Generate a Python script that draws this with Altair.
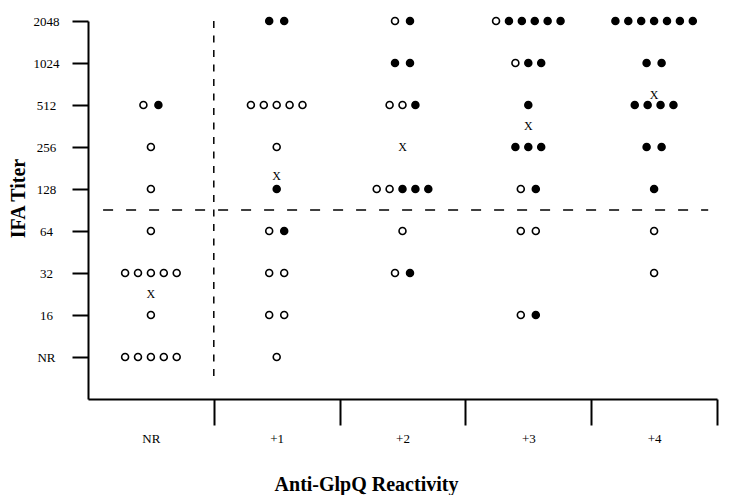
import json
import altair as alt
import pandas as pd

# ---------------- data ----------------
reactivity = ["NR", "+1", "+2", "+3", "+4"]
titer_labels = ["NR", "16", "32", "64", "128", "256", "512", "1024", "2048"]

# groups of dots: column, titer row, symbols left to right (o = open, f = filled)
group_reactivity = [
    "NR", "NR", "NR", "NR", "NR", "NR", "NR",
    "+1", "+1", "+1", "+1", "+1", "+1", "+1", "+1",
    "+2", "+2", "+2", "+2", "+2", "+2",
    "+3", "+3", "+3", "+3", "+3", "+3", "+3",
    "+4", "+4", "+4", "+4", "+4", "+4", "+4",
]
group_titer = [
    "512", "256", "128", "64", "32", "16", "NR",
    "2048", "512", "256", "128", "64", "32", "16", "NR",
    "2048", "1024", "512", "128", "64", "32",
    "2048", "1024", "512", "256", "128", "64", "16",
    "2048", "1024", "512", "256", "128", "64", "32",
]
group_symbols = [
    "of", "o", "o", "o", "ooooo", "o", "ooooo",
    "ff", "ooooo", "o", "f", "of", "oo", "oo", "o",
    "of", "ff", "oof", "oofff", "o", "of",
    "offfff", "off", "f", "fff", "of", "oo", "of",
    "fffffff", "ff", "ffff", "ff", "f", "o", "o",
]

# "X" markers (position on the titer scale, 1 = NR ... 9 = 2048)
x_mark_reactivity = ["NR", "+1", "+2", "+3", "+4"]
x_mark_level = [2.5, 5.3, 6.0, 6.5, 7.25]

# dashed cut-off lines (in scale units)
vline_x = [1.0]
vline_y = [9.0, 0.4]
hline_y = [4.5]
hline_x = [0.12, 4.93]

# ---------------- layout ----------------
W, H = 629, 378
PX_PER_UNIT = W / len(reactivity)
FONT = "Liberation Serif"

rows = []
for r, t, s in zip(group_reactivity, group_titer, group_symbols):
    n = len(s)
    gap = (15.0 if n == 2 else 12.9) / PX_PER_UNIT
    cx = reactivity.index(r) + 0.5
    for i, ch in enumerate(s):
        rows.append({
            "xpos": cx + (i - (n - 1) / 2) * gap,
            "ypos": titer_labels.index(t) + 1,
            "kind": "filled" if ch == "f" else "open",
        })
dots = pd.DataFrame(rows)

xmarks = pd.DataFrame({
    "xpos": [reactivity.index(r) + 0.5 for r in x_mark_reactivity],
    "ypos": x_mark_level,
})

vline = pd.DataFrame({"x": vline_x, "y": [vline_y[0]], "y2": [vline_y[1]]})
hline = pd.DataFrame({"y": hline_y, "x": [hline_x[0]], "x2": [hline_x[1]]})

x_scale = alt.Scale(domain=[0, len(reactivity)], nice=False, zero=False)
y_scale = alt.Scale(domain=[0, len(titer_labels)], nice=False, zero=False)

x_values = []
for i in range(len(reactivity)):
    x_values += [i + 0.5, i + 1]

x_axis = alt.Axis(
    values=x_values,
    labelExpr="datum.value % 1 == 0.5 ? " + json.dumps(reactivity) + "[floor(datum.value)] : ''",
    tickSize=26, tickWidth=2, tickColor="black",
    tickOpacity={"condition": {"test": "datum.value % 1 == 0", "value": 1}, "value": 0},
    domainColor="black", domainWidth=2,
    labelPadding=7, labelFont=FONT, labelFontSize=13, labelColor="black",
    labelOverlap=False, labelFlush=False, grid=False,
    title="Anti-GlpQ Reactivity", titleFont=FONT, titleFontSize=20,
    titleFontWeight="bold", titleColor="black",
    titleX=278, titleY=91, titleBaseline="alphabetic", titleAlign="center",
)

y_axis = alt.Axis(
    values=list(range(1, len(titer_labels) + 1)),
    labelExpr=json.dumps(titer_labels) + "[datum.value - 1]",
    tickSize=16, tickWidth=2, tickColor="black",
    domainColor="black", domainWidth=2,
    labelAlign="center", labelBaseline="middle", labelPadding=26,
    labelFont=FONT, labelFontSize=13, labelColor="black",
    labelOverlap=False, labelFlush=False, grid=False,
    title="IFA Titer", titleFont=FONT, titleFontSize=20,
    titleFontWeight="bold", titleColor="black",
    titleAngle=270, titleX=-64, titleY=177,
    titleBaseline="alphabetic", titleAlign="center",
)

vrule = alt.Chart(vline).mark_rule(
    color="black", strokeWidth=1.5, strokeDash=[7, 7.5]
).encode(
    x=alt.X("x:Q", scale=x_scale, axis=x_axis),
    y=alt.Y("y:Q", scale=y_scale, axis=y_axis),
    y2="y2:Q",
)

hrule = alt.Chart(hline).mark_rule(
    color="black", strokeWidth=1.5, strokeDash=[10, 13]
).encode(
    x=alt.X("x:Q", scale=x_scale, axis=x_axis),
    x2="x2:Q",
    y=alt.Y("y:Q", scale=y_scale, axis=y_axis),
)

points = alt.Chart(dots).mark_circle(
    stroke="black", strokeWidth=1.6, size=48, opacity=1, fillOpacity=1
).encode(
    x=alt.X("xpos:Q", scale=x_scale, axis=x_axis),
    y=alt.Y("ypos:Q", scale=y_scale, axis=y_axis),
    fill=alt.Fill("kind:N", scale=alt.Scale(domain=["open", "filled"], range=["white", "black"]), legend=None),
)

texts = alt.Chart(xmarks).mark_text(
    text="X", font=FONT, fontSize=12, baseline="middle", align="center", color="black"
).encode(
    x=alt.X("xpos:Q", scale=x_scale, axis=x_axis),
    y=alt.Y("ypos:Q", scale=y_scale, axis=y_axis),
)

chart = alt.layer(vrule, hrule, points, texts).properties(
    width=W, height=H,
    autosize=alt.AutoSizeParams(type="none"),
    padding={"left": 80, "top": 13, "right": 10, "bottom": 96},
    background="white",
).configure_view(stroke=None)

chart.save("out.html", embed_options={"renderer": "svg", "actions": False})
